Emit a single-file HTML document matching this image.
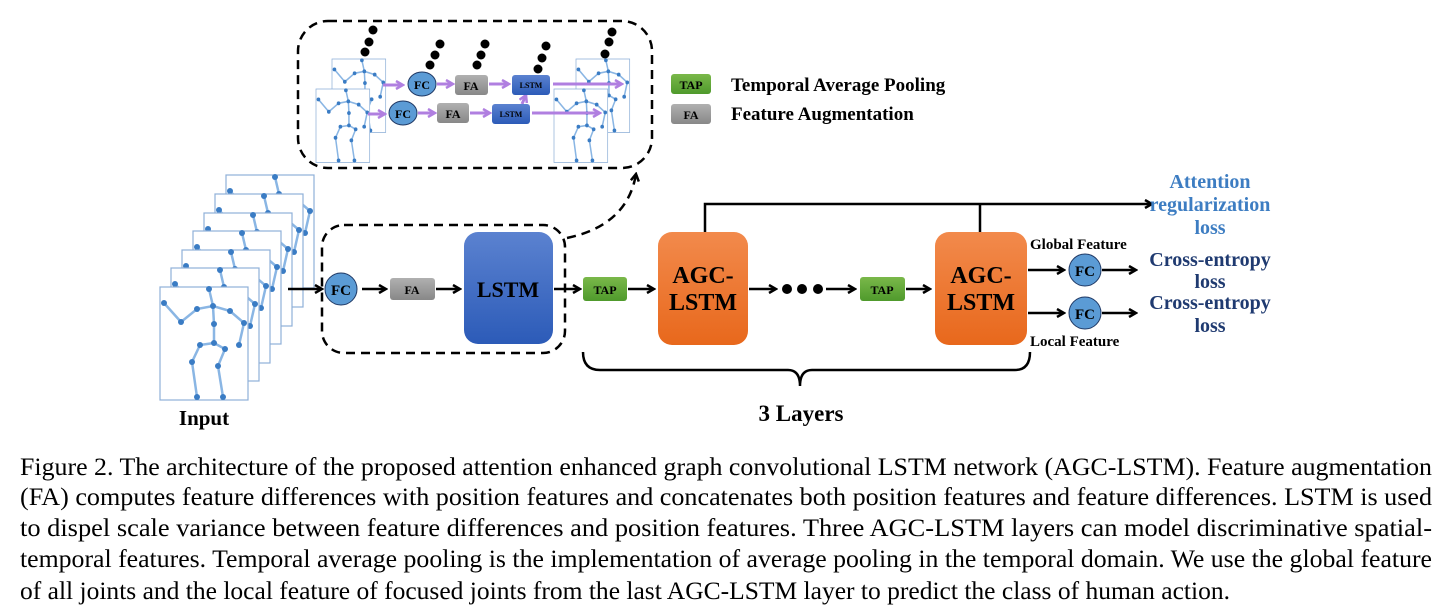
<!DOCTYPE html>
<html><head><meta charset="utf-8"><style>
html,body{margin:0;padding:0;background:#fff;}
svg{display:block;}
</style></head><body>
<svg width="1438" height="613" viewBox="0 0 1438 613" xmlns="http://www.w3.org/2000/svg" font-family="Liberation Serif, serif">
<defs>
<marker id="ah" markerWidth="10" markerHeight="10" refX="8" refY="5" orient="auto" markerUnits="userSpaceOnUse">
<path d="M1,1 L8,5 L1,9" fill="none" stroke="#000" stroke-width="2.5"/></marker>
<marker id="ap" markerWidth="10" markerHeight="10" refX="8" refY="5" orient="auto" markerUnits="userSpaceOnUse">
<path d="M1,1 L8,5 L1,9" fill="none" stroke="#b07fe0" stroke-width="2.5"/></marker>
<linearGradient id="blue" x1="0" y1="0" x2="0" y2="1"><stop offset="0" stop-color="#5b82d0"/><stop offset="1" stop-color="#2c5bb8"/></linearGradient>
<linearGradient id="org" x1="0" y1="0" x2="0" y2="1"><stop offset="0" stop-color="#f28a4c"/><stop offset="1" stop-color="#e8681c"/></linearGradient>
<linearGradient id="grn" x1="0" y1="0" x2="0" y2="1"><stop offset="0" stop-color="#7ab84a"/><stop offset="1" stop-color="#4f9a2c"/></linearGradient>
<linearGradient id="gry" x1="0" y1="0" x2="0" y2="1"><stop offset="0" stop-color="#b0b0b0"/><stop offset="1" stop-color="#888"/></linearGradient>
<g id="sk">
<rect x="0" y="0" width="88" height="113" fill="#fff" stroke="#8fb0d8" stroke-width="1.2"/>
<path d="M4,16 L21,35 L37,22 L53,19 L70,24 L84,36 L79,58 M49,2 L53,19 L54,37 L54,56 L40,58 L32,75 L37,110 M54,56 L65,62 L58,79 L63,110" fill="none" stroke="#8ab6e4" stroke-width="2.5"/>
<g fill="#3a7cc4"><circle cx="4" cy="16" r="3"/><circle cx="21" cy="35" r="3"/><circle cx="37" cy="22" r="3"/><circle cx="53" cy="19" r="3"/><circle cx="70" cy="24" r="3"/><circle cx="84" cy="36" r="3"/><circle cx="79" cy="58" r="3"/><circle cx="49" cy="2" r="3"/><circle cx="54" cy="37" r="3"/><circle cx="54" cy="56" r="3"/><circle cx="40" cy="58" r="3"/><circle cx="32" cy="75" r="3"/><circle cx="37" cy="110" r="3"/><circle cx="65" cy="62" r="3"/><circle cx="58" cy="79" r="3"/><circle cx="63" cy="110" r="3"/></g>
</g>
</defs>

<rect x="298" y="21" width="354" height="147" rx="30" fill="none" stroke="#000" stroke-width="2.5" stroke-dasharray="9,6"/>
<g transform="translate(332,59) scale(0.61,0.65)"><use href="#sk"/></g>
<g transform="translate(316,89) scale(0.61,0.65)"><use href="#sk"/></g>
<g transform="translate(576,59) scale(0.61,0.65)"><use href="#sk"/></g>
<g transform="translate(554,89) scale(0.61,0.65)"><use href="#sk"/></g>
<g fill="#000">
<circle cx="373" cy="30" r="4.5"/><circle cx="369" cy="42" r="4.5"/><circle cx="365" cy="52" r="4.5"/>
<circle cx="440" cy="44" r="4.5"/><circle cx="435" cy="55" r="4.5"/><circle cx="430" cy="65" r="4.5"/>
<circle cx="485" cy="44" r="4.5"/><circle cx="481" cy="55" r="4.5"/><circle cx="477" cy="65" r="4.5"/>
<circle cx="546" cy="46" r="4.5"/><circle cx="542" cy="58" r="4.5"/><circle cx="538" cy="69" r="4.5"/>
<circle cx="612" cy="32" r="4.5"/><circle cx="609" cy="42" r="4.5"/><circle cx="605" cy="54" r="4.5"/>
</g>
<g stroke="#b07fe0" stroke-width="3" fill="none">
<line x1="383" y1="85" x2="403" y2="85" marker-end="url(#ap)"/>
<line x1="437" y1="84" x2="453" y2="84" marker-end="url(#ap)"/>
<line x1="489" y1="84" x2="509" y2="84" marker-end="url(#ap)"/>
<line x1="553" y1="84" x2="622" y2="84" marker-end="url(#ap)"/>
<line x1="368" y1="114" x2="385" y2="114" marker-end="url(#ap)"/>
<line x1="418" y1="113" x2="435" y2="113" marker-end="url(#ap)"/>
<line x1="470" y1="113" x2="490" y2="113" marker-end="url(#ap)"/>
<line x1="532" y1="113" x2="600" y2="113" marker-end="url(#ap)"/>
<line x1="522" y1="104" x2="526" y2="95" marker-end="url(#ap)"/>
</g>
<ellipse cx="422" cy="84" rx="14" ry="12" fill="#5b9bd5" stroke="#1f3864"/>
<text x="422" y="89" font-size="12" font-weight="bold" text-anchor="middle">FC</text>
<rect x="455" y="75" width="33" height="20" rx="3" fill="url(#gry)"/>
<text x="471" y="90" font-size="12" font-weight="bold" text-anchor="middle">FA</text>
<rect x="512" y="75" width="38" height="20" rx="3" fill="url(#blue)"/>
<text x="531" y="88" font-size="8" font-weight="bold" text-anchor="middle">LSTM</text>
<ellipse cx="403" cy="113" rx="14" ry="12" fill="#5b9bd5" stroke="#1f3864"/>
<text x="403" y="118" font-size="12" font-weight="bold" text-anchor="middle">FC</text>
<rect x="437" y="103" width="32" height="20" rx="3" fill="url(#gry)"/>
<text x="453" y="118" font-size="12" font-weight="bold" text-anchor="middle">FA</text>
<rect x="492" y="104" width="38" height="20" rx="3" fill="url(#blue)"/>
<text x="511" y="117" font-size="8" font-weight="bold" text-anchor="middle">LSTM</text>

<rect x="671" y="74" width="40" height="20" rx="3" fill="url(#grn)"/>
<text x="691" y="89" font-size="12" font-weight="bold" text-anchor="middle">TAP</text>
<text x="731" y="91" font-size="19" font-weight="bold">Temporal Average Pooling</text>
<rect x="671" y="104" width="40" height="20" rx="3" fill="url(#gry)"/>
<text x="691" y="119" font-size="12" font-weight="bold" text-anchor="middle">FA</text>
<text x="731" y="120" font-size="19" font-weight="bold">Feature Augmentation</text>

<g transform="translate(226,175)"><use href="#sk"/></g>
<g transform="translate(215,194)"><use href="#sk"/></g>
<g transform="translate(204,213)"><use href="#sk"/></g>
<g transform="translate(193,231)"><use href="#sk"/></g>
<g transform="translate(182,250)"><use href="#sk"/></g>
<g transform="translate(171,268)"><use href="#sk"/></g>
<g transform="translate(160,287)"><use href="#sk"/></g>
<text x="204" y="425" font-size="21" font-weight="bold" text-anchor="middle">Input</text>

<rect x="322" y="225" width="243" height="128" rx="22" fill="none" stroke="#000" stroke-width="2.5" stroke-dasharray="9,6"/>
<path d="M567,238 C605,230 630,210 636,174" fill="none" stroke="#000" stroke-width="2.5" stroke-dasharray="9,6" marker-end="url(#ah)"/>

<g stroke="#000" stroke-width="2.5" fill="none">
<line x1="288" y1="289" x2="322" y2="289" marker-end="url(#ah)"/>
<line x1="362" y1="289" x2="386" y2="289" marker-end="url(#ah)"/>
<line x1="436" y1="289" x2="460" y2="289" marker-end="url(#ah)"/>
<line x1="554" y1="289" x2="580" y2="289" marker-end="url(#ah)"/>
<line x1="628" y1="289" x2="654" y2="289" marker-end="url(#ah)"/>
<line x1="749" y1="289" x2="776" y2="289" marker-end="url(#ah)"/>
<line x1="826" y1="289" x2="855" y2="289" marker-end="url(#ah)"/>
<line x1="906" y1="289" x2="930" y2="289" marker-end="url(#ah)"/>
<polyline points="705,232 705,204 1152,204" marker-end="url(#ah)"/>
<line x1="980" y1="232" x2="980" y2="204"/>
<line x1="1028" y1="270" x2="1064" y2="270" marker-end="url(#ah)"/>
<line x1="1102" y1="270" x2="1136" y2="270" marker-end="url(#ah)"/>
<line x1="1028" y1="313" x2="1064" y2="313" marker-end="url(#ah)"/>
<line x1="1102" y1="313" x2="1136" y2="313" marker-end="url(#ah)"/>
<path d="M583,352 Q583,370 600,370 L788,370 Q800,370 800,386 Q800,370 812,370 L1015,370 Q1030,370 1030,352"/>
</g>
<g fill="#000"><circle cx="787" cy="289" r="5"/><circle cx="802" cy="289" r="5"/><circle cx="818" cy="289" r="5"/></g>

<circle cx="341" cy="289" r="16" fill="#5b9bd5" stroke="#1f3864"/>
<text x="341" y="295" font-size="15" font-weight="bold" text-anchor="middle">FC</text>
<rect x="390" y="278" width="45" height="22" rx="3" fill="url(#gry)"/>
<text x="412" y="294" font-size="12" font-weight="bold" text-anchor="middle">FA</text>
<rect x="464" y="232" width="89" height="112" rx="14" fill="url(#blue)"/>
<text x="508" y="297" font-size="22" font-weight="bold" text-anchor="middle">LSTM</text>
<rect x="583" y="277" width="44" height="24" rx="3" fill="url(#grn)"/>
<text x="605" y="294" font-size="12" font-weight="bold" text-anchor="middle">TAP</text>
<rect x="658" y="232" width="90" height="113" rx="14" fill="url(#org)"/>
<text x="703" y="283" font-size="24" font-weight="bold" text-anchor="middle">AGC-</text>
<text x="703" y="310" font-size="24" font-weight="bold" text-anchor="middle">LSTM</text>
<rect x="860" y="277" width="45" height="24" rx="3" fill="url(#grn)"/>
<text x="882" y="294" font-size="12" font-weight="bold" text-anchor="middle">TAP</text>
<rect x="935" y="232" width="92" height="113" rx="14" fill="url(#org)"/>
<text x="981" y="283" font-size="24" font-weight="bold" text-anchor="middle">AGC-</text>
<text x="981" y="310" font-size="24" font-weight="bold" text-anchor="middle">LSTM</text>

<text x="1030" y="249" font-size="15" font-weight="bold">Global Feature</text>
<text x="1030" y="346" font-size="15" font-weight="bold">Local Feature</text>
<circle cx="1085" cy="270" r="16" fill="#5b9bd5" stroke="#1f3864"/>
<text x="1085" y="276" font-size="15" font-weight="bold" text-anchor="middle">FC</text>
<circle cx="1085" cy="313" r="16" fill="#5b9bd5" stroke="#1f3864"/>
<text x="1085" y="319" font-size="15" font-weight="bold" text-anchor="middle">FC</text>

<g font-size="20" font-weight="bold" text-anchor="middle">
<text x="1210" y="188" fill="#3d7dc2">Attention</text>
<text x="1210" y="211" fill="#3d7dc2">regularization</text>
<text x="1210" y="234" fill="#3d7dc2">loss</text>
<text x="1210" y="266" fill="#1f3a70">Cross-entropy</text>
<text x="1210" y="288" fill="#1f3a70">loss</text>
<text x="1210" y="309" fill="#1f3a70">Cross-entropy</text>
<text x="1210" y="332" fill="#1f3a70">loss</text>
</g>
<text x="801" y="421" font-size="23" font-weight="bold" text-anchor="middle">3 Layers</text>

<g font-size="25" fill="#000">
<text x="20" y="475" textLength="1412" lengthAdjust="spacingAndGlyphs">Figure 2. The architecture of the proposed attention enhanced graph convolutional LSTM network (AGC-LSTM). Feature augmentation</text>
<text x="20" y="505" textLength="1412" lengthAdjust="spacingAndGlyphs">(FA) computes feature differences with position features and concatenates both position features and feature differences. LSTM is used</text>
<text x="20" y="536" textLength="1412" lengthAdjust="spacingAndGlyphs">to dispel scale variance between feature differences and position features.  Three AGC-LSTM layers can model discriminative spatial-</text>
<text x="20" y="567" textLength="1412" lengthAdjust="spacingAndGlyphs">temporal features. Temporal average pooling is the implementation of average pooling in the temporal domain. We use the global feature</text>
<text x="20" y="599" textLength="1210" lengthAdjust="spacingAndGlyphs">of all joints and the local feature of focused joints from the last AGC-LSTM layer to predict the class of human action.</text>
</g>
</svg>
</body></html>
